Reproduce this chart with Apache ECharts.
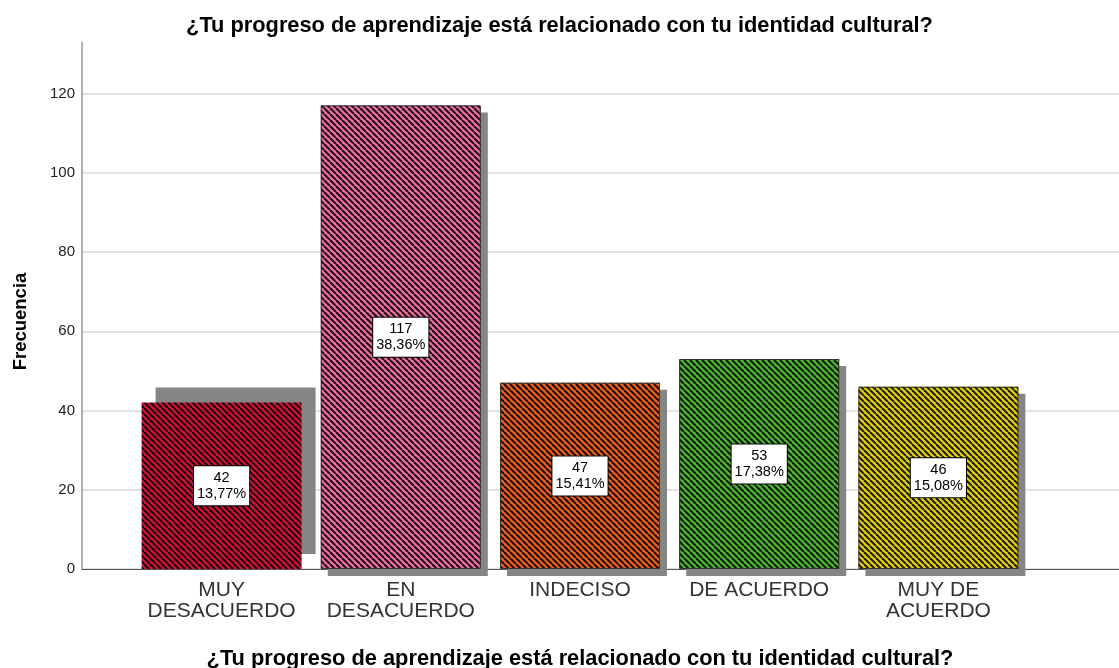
<!DOCTYPE html>
<html>
<head>
<meta charset="utf-8">
<script src="https://cdn.jsdelivr.net/npm/echarts@6/dist/echarts.min.js"></script>
<style>
html,body{margin:0;padding:0;background:#fff;}
#chart{width:1119px;height:668px;}
</style>
</head>
<body>
<div id="chart"></div>
<script>
const categories = ['MUY\nDESACUERDO', 'EN\nDESACUERDO', 'INDECISO', 'DE ACUERDO', 'MUY DE\nACUERDO'];
const counts = [42, 117, 47, 53, 46];
const percents = ['13,77%', '38,36%', '15,41%', '17,38%', '15,08%'];
const barColors = ['#D4103C', '#F06EA0', '#EE6020', '#50B830', '#E2D20C'];
const titleText = '¿Tu progreso de aprendizaje está relacionado con tu identidad cultural?';
const yAxisName = 'Frecuencia';

function hatch(color) {
  const p = 6;
  const c = document.createElement('canvas');
  c.width = p; c.height = p;
  const g = c.getContext('2d');
  g.fillStyle = color;
  g.fillRect(0, 0, p, p);
  g.strokeStyle = 'rgba(0,0,0,0.85)';
  g.lineWidth = 2.1;
  for (let k = -p; k <= p; k += p) {
    g.beginPath();
    g.moveTo(k, 0);
    g.lineTo(k + p, p);
    g.stroke();
  }
  return { image: c, repeat: 'repeat' };
}

const chart = echarts.init(document.getElementById('chart'));
const font = 'Arial, "Liberation Sans", sans-serif';

chart.setOption({
  animation: false,
  backgroundColor: '#fff',
  title: {
    text: titleText,
    left: 'center',
    top: 10,
    textStyle: { fontFamily: font, fontSize: 21.8, fontWeight: 'bold', color: '#000' }
  },
  grid: [
    { left: 82, right: 0, top: 42, bottom: 99, outerBoundsMode: 'none', containLabel: false },
    { left: 132, right: 91, top: 42, bottom: 99, outerBoundsMode: 'none', containLabel: false }
  ],
  xAxis: [
    {
      gridIndex: 0, type: 'value', min: 0, max: 1,
      axisLine: { show: true, onZero: false, lineStyle: { color: '#555', width: 1 } },
      axisTick: { show: false }, axisLabel: { show: false }, splitLine: { show: false }
    },
    {
      gridIndex: 1, type: 'category', data: categories,
      axisLine: { show: false }, axisTick: { show: false },
      axisLabel: { interval: 0, fontFamily: font, fontSize: 21, color: '#333', lineHeight: 21, margin: 11 },
      name: titleText, nameLocation: 'middle', nameGap: 79,
      nameTextStyle: { fontFamily: font, fontSize: 21.8, fontWeight: 'bold', color: '#000' }
    }
  ],
  yAxis: [
    {
      gridIndex: 0, type: 'value', min: 0, max: 133, interval: 20,
      axisLine: { show: true, lineStyle: { color: '#999', width: 1.5 } },
      axisTick: { show: false },
      axisLabel: { fontFamily: font, fontSize: 15, color: '#222', margin: 7, showMaxLabel: false },
      splitLine: { show: true, showMaxLine: false, lineStyle: { color: '#d9d9d9', width: 1.5 } },
      name: yAxisName, nameLocation: 'middle', nameGap: 52,
      nameTextStyle: { fontFamily: font, fontSize: 18.5, fontWeight: 'bold', color: '#000', padding: [0, 32, 0, 0] }
    },
    {
      gridIndex: 1, type: 'value', min: 0, max: 133, interval: 20,
      axisLine: { show: false }, axisTick: { show: false }, axisLabel: { show: false },
      splitLine: { show: false }
    }
  ],
  series: [
    {
      type: 'bar',
      xAxisIndex: 1, yAxisIndex: 1,
      barWidth: 160,
      barGap: '-100%',
      z: 2,
      data: counts.map((v, i) => ({
        value: v,
        itemStyle: Object.assign({
          color: hatch(barColors[i]),
          borderWidth: 0,
          shadowColor: '#858585', shadowBlur: 0, shadowOffsetX: 7, shadowOffsetY: 7
        }, i === 0 ? { shadowOffsetX: 14, shadowOffsetY: -15 } : {})
      }))
    },
    {
      type: 'bar',
      xAxisIndex: 1, yAxisIndex: 1,
      barWidth: 160,
      barGap: '-100%',
      z: 3,
      data: counts.map((v, i) => ({
        value: v,
        itemStyle: {
          color: 'rgba(0,0,0,0)',
          borderColor: i === 0 ? 'rgba(0,0,0,0)' : '#333',
          borderWidth: 1
        }
      })),
      label: {
        show: true,
        position: 'inside',
        formatter: p => counts[p.dataIndex] + '\n' + percents[p.dataIndex],
        fontFamily: font, fontSize: 14.5, lineHeight: 16, color: '#000',
        backgroundColor: '#fff', borderColor: '#000', borderWidth: 1,
        padding: [4, 3, 3, 3], align: 'center'
      }
    }
  ]
});
</script>
</body>
</html>
